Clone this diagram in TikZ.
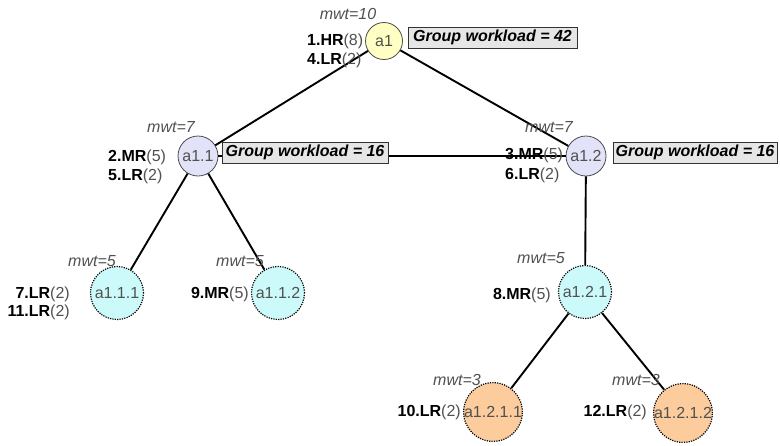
\documentclass[tikz,border=0pt]{standalone}
\usepackage{fontspec}
\setmainfont{Liberation Sans}
\definecolor{topfill}{HTML}{FFFFC4}
\definecolor{midfill}{HTML}{E2E2F8}
\definecolor{cyanfill}{HTML}{CCFAFA}
\definecolor{orangefill}{HTML}{FCCC9C}
\definecolor{wlfill}{HTML}{E6E6E6}
\definecolor{softtext}{HTML}{505050}
\begin{document}
\fontsize{16}{19}\selectfont
\begin{tikzpicture}[x=1pt,y=-1pt,
  edge/.style={line width=1.9pt, black},
  agent/.style={circle, inner sep=0pt, text=softtext},
  topagent/.style={agent, draw=black!70, line width=0.8pt, fill=topfill, minimum size=37pt},
  midagent/.style={agent, draw=black!70, line width=0.8pt, fill=midfill, minimum size=40pt},
  leafagent/.style={agent, draw=black, line width=1.2pt, dash pattern=on 1.2pt off 1.2pt, minimum size=53pt},
  workload/.style={draw=black!80, line width=0.8pt, fill=wlfill, inner sep=0pt,
    minimum height=21pt, font=\bfseries\itshape, text=black},
  mwt/.style={text=softtext, font=\itshape, inner sep=0pt},
  req/.style={inner sep=0pt}
]
\useasboundingbox (0,0) rectangle (780,445);

% agents
\node[topagent] (a1) at (384,41) {a1};
\node[midagent] (a11) at (198,156) {a1.1};
\node[midagent] (a12) at (586,156) {a1.2};
\node[leafagent, fill=cyanfill] (a111) at (117,293) {a1.1.1};
\node[leafagent, fill=cyanfill] (a112) at (278,293) {a1.1.2};
\node[leafagent, fill=cyanfill] (a121) at (585,292) {a1.2.1};
\node[leafagent, fill=orangefill] (a1211) at (493,412) {a1.2.1.1};
\node[leafagent, fill=orangefill] (a1212) at (683,413) {a1.2.1.2};

% tree connectors
\draw[edge] (a1) -- (a11);
\draw[edge] (a1) -- (a12);
\draw[edge] (a11) -- (a12);
\draw[edge] (a11) -- (a111);
\draw[edge] (a11) -- (a112);
\draw[edge] (a12) -- (a121);
\draw[edge] (a121) -- (a1211);
\draw[edge] (a121) -- (a1212);

% group workloads
\node[workload, minimum width=169pt] (wl1) at (492.5,37.5) {Group workload = 42};
\node[workload, minimum width=166pt] (wl11) at (305,152.5) {Group workload = 16};
\node[workload, minimum width=164pt] (wl12) at (695,152.5) {Group workload = 16};

% maximum workload thresholds
\node[mwt] (m1) at (348,14) {mwt=10};
\node[mwt] (m11) at (171,127) {mwt=7};
\node[mwt] (m12) at (549,127) {mwt=7};
\node[mwt] (m111) at (92,261) {mwt=5};
\node[mwt] (m112) at (240,261) {mwt=5};
\node[mwt] (m121) at (541,258) {mwt=5};
\node[mwt] (m1211) at (457,380) {mwt=3};
\node[mwt] (m1212) at (636,380) {mwt=3};

% role requests
\node[req, anchor=west] (r1) at (307,41) {\textbf{1.HR}\textcolor{softtext}{(8)}};
\node[req, anchor=west] (r4) at (307,60) {\textbf{4.LR}\textcolor{softtext}{(2)}};
\node[req, anchor=west] (r2) at (108,157) {\textbf{2.MR}\textcolor{softtext}{(5)}};
\node[req, anchor=west] (r5) at (108,176) {\textbf{5.LR}\textcolor{softtext}{(2)}};
\node[req, anchor=west] (r3) at (505,155) {\textbf{3.MR}\textcolor{softtext}{(5)}};
\node[req, anchor=west] (r6) at (505,175) {\textbf{6.LR}\textcolor{softtext}{(2)}};
\node[req, anchor=east] (r7) at (70,294) {\textbf{7.LR}\textcolor{softtext}{(2)}};
\node[req, anchor=east] (r11) at (70,312) {\textbf{11.LR}\textcolor{softtext}{(2)}};
\node[req, anchor=east] (r9) at (249,294) {\textbf{9.MR}\textcolor{softtext}{(5)}};
\node[req, anchor=east] (r8) at (551,295) {\textbf{8.MR}\textcolor{softtext}{(5)}};
\node[req, anchor=east] (r10) at (461,412) {\textbf{10.LR}\textcolor{softtext}{(2)}};
\node[req, anchor=east] (r12) at (647,412) {\textbf{12.LR}\textcolor{softtext}{(2)}};
\end{tikzpicture}
\end{document}
